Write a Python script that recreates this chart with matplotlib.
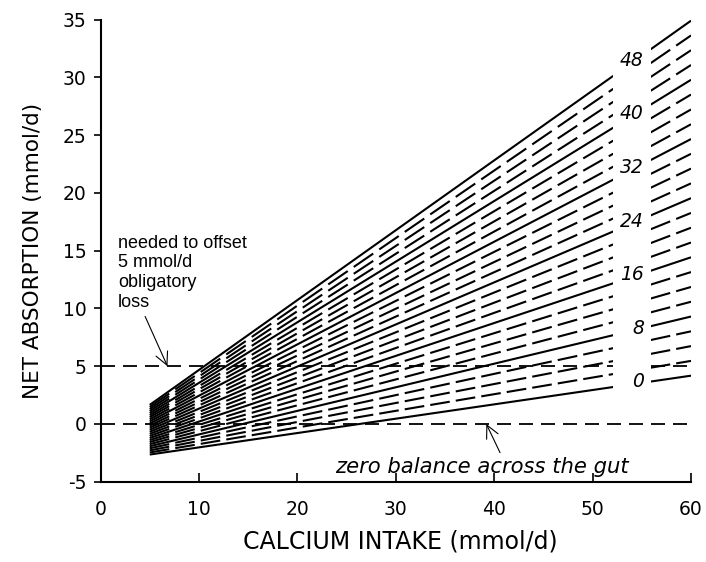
import numpy as np
import matplotlib
matplotlib.use("Agg")
from matplotlib import pyplot as plt
from matplotlib.patches import Rectangle

plt.rcParams['lines.scale_dashes'] = False
plt.rcParams['axes.unicode_minus'] = False

# Net absorption lines, one per curve label (step 2), evaluated at intake 5 and 60 mmol/d
curve_labels = [0, 2, 4, 6, 8, 10, 12, 14, 16, 18, 20, 22, 24,
                26, 28, 30, 32, 34, 36, 38, 40, 42, 44, 46, 48]
intake_ends = [5, 60]
absorb_at_5 = [-2.65, -2.47, -2.29, -2.11, -1.93, -1.75, -1.57, -1.40, -1.22,
               -1.04, -0.86, -0.68, -0.50, -0.32, -0.14, 0.04, 0.22, 0.40,
               0.58, 0.75, 0.93, 1.11, 1.29, 1.47, 1.65]
absorb_at_60 = [4.18, 5.46, 6.74, 8.02, 9.30, 10.58, 11.86, 13.15, 14.43,
                15.71, 16.99, 18.27, 19.55, 20.83, 22.11, 23.39, 24.67, 25.95,
                27.23, 28.52, 29.80, 31.08, 32.36, 33.64, 34.92]
shown_labels = [0, 8, 16, 24, 32, 40, 48]

# lines are broken between these intakes to make room for the labels
gap_lo, gap_hi = 52.1, 55.9

fig = plt.figure(figsize=(7.06, 5.62), dpi=100)
ax = fig.add_axes([0.1424, 0.1429, 0.8364, 0.822])
ax.set_xlim(0, 60)
ax.set_ylim(-5, 35)

# pixel scale, used to keep the dash gaps lined up in x for every slope
px_x = fig.get_figwidth() * 100 * 0.8364 / 60
px_y = fig.get_figheight() * 100 * 0.822 / 40
pt = 0.72

for lab, y5, y60 in zip(curve_labels, absorb_at_5, absorb_at_60):
    if lab % 8 == 0:
        style = dict(linestyle='-', solid_capstyle='butt')
    else:
        slope = (y60 - y5) / (60 - 5) * px_y / px_x
        f = np.sqrt(1 + slope ** 2)
        style = dict(dashes=(19.5 * f * pt, 6.0 * f * pt), dash_capstyle='butt')
    for xa, xb in [(5, gap_lo), (gap_hi, 60)]:
        xs = [xa, xb]
        ys = np.interp(xs, intake_ends, [y5, y60])
        ax.plot(xs, ys, color='black', lw=1.5, zorder=2, **style)

# reference levels
ax.axhline(5, color='black', lw=1.3, dashes=(14 * pt, 8 * pt), zorder=1)
ax.axhline(0, color='black', lw=1.3, dashes=(14 * pt, 8 * pt), zorder=1)

# blank band for the curve labels
ax.add_patch(Rectangle((gap_lo, 2.0), gap_hi - gap_lo, 33.5, facecolor='white',
                       edgecolor='none', zorder=3, clip_on=False))
for lab in shown_labels:
    i = curve_labels.index(lab)
    yv = absorb_at_5[i] + (absorb_at_60[i] - absorb_at_5[i]) * (54 - 5) / 55
    ax.text(55.2, yv + 0.2, str(lab), ha='right', va='center',
            fontsize=13.5, style='italic', family='DejaVu Sans', zorder=4)

ax.annotate('needed to offset\n5 mmol/d\nobligatory\nloss', xy=(6.8, 5),
            xytext=(1.8, 16.4), ha='left', va='top', fontsize=13,
            family='Liberation Sans', linespacing=1.22,
            arrowprops=dict(arrowstyle='->,head_length=0.7,head_width=0.35',
                            color='black', lw=0.8, shrinkA=2, shrinkB=0,
                            relpos=(0.19, 0.0)))
ax.annotate('zero balance across the gut', xy=(39.2, 0), xytext=(38.7, -3.7),
            ha='center', va='center', fontsize=15.2, style='italic',
            family='DejaVu Sans',
            arrowprops=dict(arrowstyle='->,head_length=0.6,head_width=0.3',
                            color='black', lw=0.8, shrinkA=1, shrinkB=0,
                            relpos=(0.57, 1.0)))

ax.spines['top'].set_visible(False)
ax.spines['right'].set_visible(False)
ax.spines['left'].set_linewidth(1.5)
ax.spines['bottom'].set_linewidth(1.5)
ax.set_xticks([0, 10, 20, 30, 40, 50, 60])
ax.set_yticks([-5, 0, 5, 10, 15, 20, 25, 30, 35])
ax.tick_params(axis='y', direction='out', length=5, width=1.2, pad=5,
               labelsize=13.5)
ax.tick_params(axis='x', direction='in', length=6.5, width=1.2, pad=13,
               labelsize=13.5)
for t in ax.get_xticklabels() + ax.get_yticklabels():
    t.set_family('DejaVu Sans')

ax.set_xlabel('CALCIUM INTAKE (mmol/d)', fontsize=17, family='DejaVu Sans')
ax.set_ylabel('NET ABSORPTION (mmol/d)', fontsize=15.5, family='DejaVu Sans')
ax.xaxis.set_label_coords(0.507, -0.104)
ax.yaxis.set_label_coords(-0.098, 0.5)
ax.xaxis.label.set_va('top')

plt.savefig('out.png', dpi=100)
